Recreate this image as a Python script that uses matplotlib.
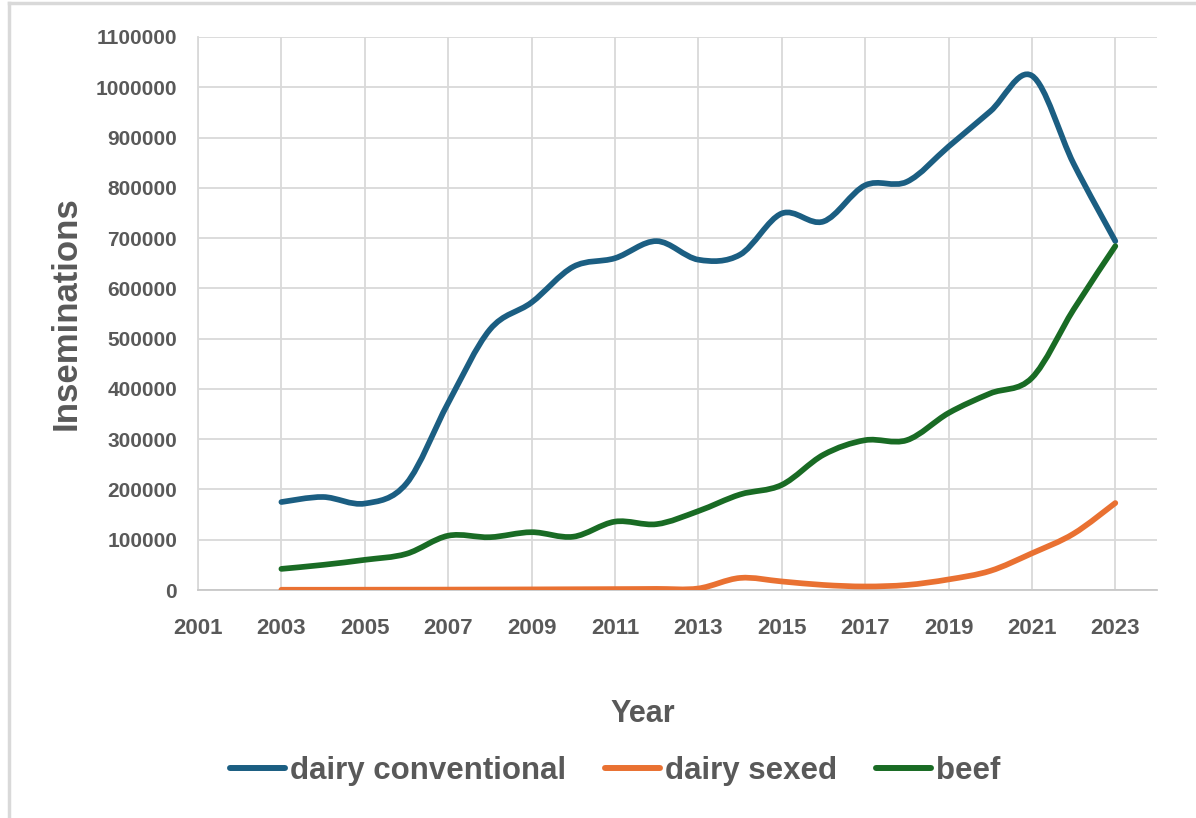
import matplotlib.pyplot as plt
import numpy as np
from matplotlib.path import Path
from matplotlib.patches import PathPatch
from matplotlib.lines import Line2D

years = list(range(2003, 2024))

dairy_conv = [175000, 185000, 172000, 212000, 372000, 518000, 572000, 643000, 660000, 694000,
              657000, 667000, 749000, 733000, 805000, 812000, 882000, 952000, 1023000, 848000, 694000]
dairy_sexed = [500, 500, 600, 700, 800, 1000, 1200, 1500, 1800, 2200,
               3000, 24000, 17000, 10000, 7000, 10000, 21000, 38000, 73000, 112000, 173000]
beef = [42000, 50000, 60000, 72000, 108000, 105000, 115000, 106000, 136000, 131000,
        157000, 190000, 209000, 269000, 298000, 298000, 352000, 391000, 422000, 558000, 684000]

series_names = ['dairy conventional', 'dairy sexed', 'beef']
colors = ['#1b5e82', '#e97132', '#196b24']
y_ticks = list(range(0, 1100001, 100000))
x_ticks = list(range(2001, 2024, 2))

grey_text = '#595959'
grid_col = '#d9d9d9'
fam = ['Liberation Sans', 'DejaVu Sans']


def smooth_path(x, y):
    # Excel-like smoothed line: cubic bezier through every point
    x = np.asarray(x, float)
    y = np.asarray(y, float)
    px = np.concatenate([[x[0]], x, [x[-1]]])
    py = np.concatenate([[y[0]], y, [y[-1]]])
    verts = [(x[0], y[0])]
    codes = [Path.MOVETO]
    for i in range(len(x) - 1):
        j = i + 1
        c1 = (px[j] + (px[j + 1] - px[j - 1]) / 6, py[j] + (py[j + 1] - py[j - 1]) / 6)
        c2 = (px[j + 1] - (px[j + 2] - px[j]) / 6, py[j + 1] - (py[j + 2] - py[j]) / 6)
        verts += [c1, c2, (x[i + 1], y[i + 1])]
        codes += [Path.CURVE4] * 3
    return Path(verts, codes)


fig = plt.figure(figsize=(11.96, 8.18), dpi=100)
ax = fig.add_axes([198 / 1196, 1 - 590 / 818, (1157 - 198) / 1196, (590 - 37) / 818])

for vals, c in zip([dairy_conv, dairy_sexed, beef], colors):
    ax.add_patch(PathPatch(smooth_path(years, vals), fill=False, edgecolor=c,
                           lw=4.1, capstyle='round', joinstyle='round', zorder=3))

ax.set_xlim(2001, 2024)
ax.set_ylim(0, 1100000)
ax.set_xticks(x_ticks)
ax.set_xticklabels([str(v) for v in x_ticks])
ax.set_yticks(y_ticks)
ax.set_yticklabels([str(v) for v in y_ticks])
ax.grid(True, color=grid_col, lw=1.3)
ax.set_axisbelow(True)
for s in ['top', 'right']:
    ax.spines[s].set_visible(False)
ax.spines['left'].set_color(grid_col)
ax.spines['left'].set_linewidth(1.3)
ax.spines['bottom'].set_color('#c8c8c8')
ax.spines['bottom'].set_linewidth(1.3)
ax.tick_params(length=0, colors=grey_text)
ax.tick_params(axis='y', pad=15, labelsize=15)
ax.tick_params(axis='x', pad=20, labelsize=16)
for lab in ax.get_xticklabels() + ax.get_yticklabels():
    lab.set_fontweight('bold')
    lab.set_fontfamily(fam)

fig.text(66 / 1196, 1 - 313 / 818, 'Inseminations', rotation=90, ha='center', va='center',
         fontsize=25, fontweight='bold', color=grey_text, family=fam)
fig.text(643 / 1196, 1 - 714 / 818, 'Year', ha='center', va='center',
         fontsize=22, fontweight='bold', color=grey_text, family=fam)

handles = [Line2D([], [], color=c, lw=4.3, solid_capstyle='round') for c in colors]
leg = fig.legend(handles, series_names, loc='center', bbox_to_anchor=(615 / 1196, 1 - 771 / 818),
                 ncol=3, frameon=False, handlelength=1.75, handletextpad=0.16, columnspacing=1.25,
                 prop={'family': fam, 'weight': 'bold', 'size': 22.5})
for t in leg.get_texts():
    t.set_color(grey_text)

# light frame of the chart area (left and top edges)
fig.add_artist(Line2D([9 / 1196, 9 / 1196], [0, 1 - 3 / 818], color='#d9d9d9', lw=2.5))
fig.add_artist(Line2D([9 / 1196, 1], [1 - 3 / 818, 1 - 3 / 818], color='#d9d9d9', lw=2.5))

fig.savefig('out.png', dpi=100)
